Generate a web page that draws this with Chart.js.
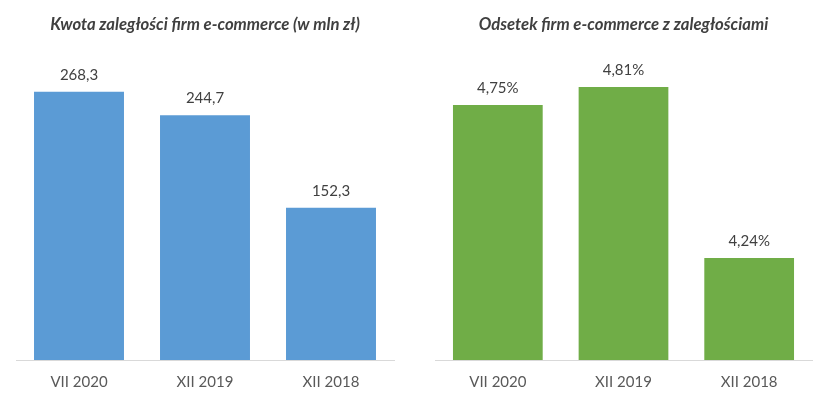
<!DOCTYPE html>
<html>
<head>
<meta charset="utf-8">
<script src="https://cdn.jsdelivr.net/npm/chart.js@4"></script>
<style>
html,body{margin:0;padding:0;background:#fff;overflow:hidden;}
#wrap{position:relative;width:829px;height:398px;}
canvas{position:absolute;top:0;}
</style>
</head>
<body>
<div id="wrap">
  <canvas id="c1" width="415" height="398" style="left:0;width:415px;height:398px;"></canvas>
  <canvas id="c2" width="414" height="398" style="left:415px;width:414px;height:398px;"></canvas>
</div>
<script>
const categories = ["VII 2020", "XII 2019", "XII 2018"];
const kwota = [268.3, 244.7, 152.3];
const odsetek = [4.75, 4.81, 4.24];
const title1 = "Kwota zaległości firm e-commerce (w mln zł)";
const title2 = "Odsetek firm e-commerce z zaległościami";

const FONT = "Lato, 'Open Sans', sans-serif";

const labelPlugin = {
  id: 'barLabels',
  afterDatasetsDraw(chart, args, opts) {
    const ctx = chart.ctx;
    const meta = chart.getDatasetMeta(0);
    const data = chart.data.datasets[0].data;
    ctx.save();
    ctx.font = "15px " + FONT;
    ctx.fillStyle = "#404040";
    ctx.textAlign = "center";
    ctx.textBaseline = "middle";
    meta.data.forEach((bar, i) => {
      ctx.fillText(opts.fmt(data[i]), bar.x, bar.y - 17);
    });
    ctx.restore();
  }
};

function makeChart(id, title, values, color, min, max, fmt, padL, padR) {
  return new Chart(document.getElementById(id), {
    type: 'bar',
    data: {
      labels: categories,
      datasets: [{
        data: values,
        backgroundColor: color,
        borderWidth: 0,
        categoryPercentage: 1,
        barPercentage: 0.714
      }]
    },
    options: {
      responsive: false,
      maintainAspectRatio: false,
      devicePixelRatio: 1,
      animation: false,
      layout: { padding: { left: padL, right: padR, top: 0, bottom: 7 } },
      plugins: {
        legend: { display: false },
        tooltip: { enabled: false },
        title: {
          display: true,
          text: title,
          color: "#404040",
          font: { family: FONT, size: 16.7, weight: 'bold', style: 'italic', lineHeight: 1.2 },
          padding: { top: 15, bottom: 25 }
        },
        barLabels: { fmt: fmt }
      },
      scales: {
        x: {
          grid: { display: false, drawTicks: false },
          border: { display: true, color: "#D9D9D9", width: 1 },
          ticks: { color: "#595959", font: { family: FONT, size: 15, lineHeight: 1.2 }, padding: 13 },
          afterFit(scale) { scale.height = 31; }
        },
        y: {
          display: false,
          min: min,
          max: max
        }
      }
    },
    plugins: [labelPlugin]
  });
}

makeChart('c1', title1, kwota, "#5B9BD5", 0, 300, v => v.toFixed(1).replace('.', ','), 16, 21);
makeChart('c2', title2, odsetek, "#70AD47", 3.9, 4.9, v => v.toFixed(2).replace('.', ',') + '%', 20, 17);
</script>
</body>
</html>
